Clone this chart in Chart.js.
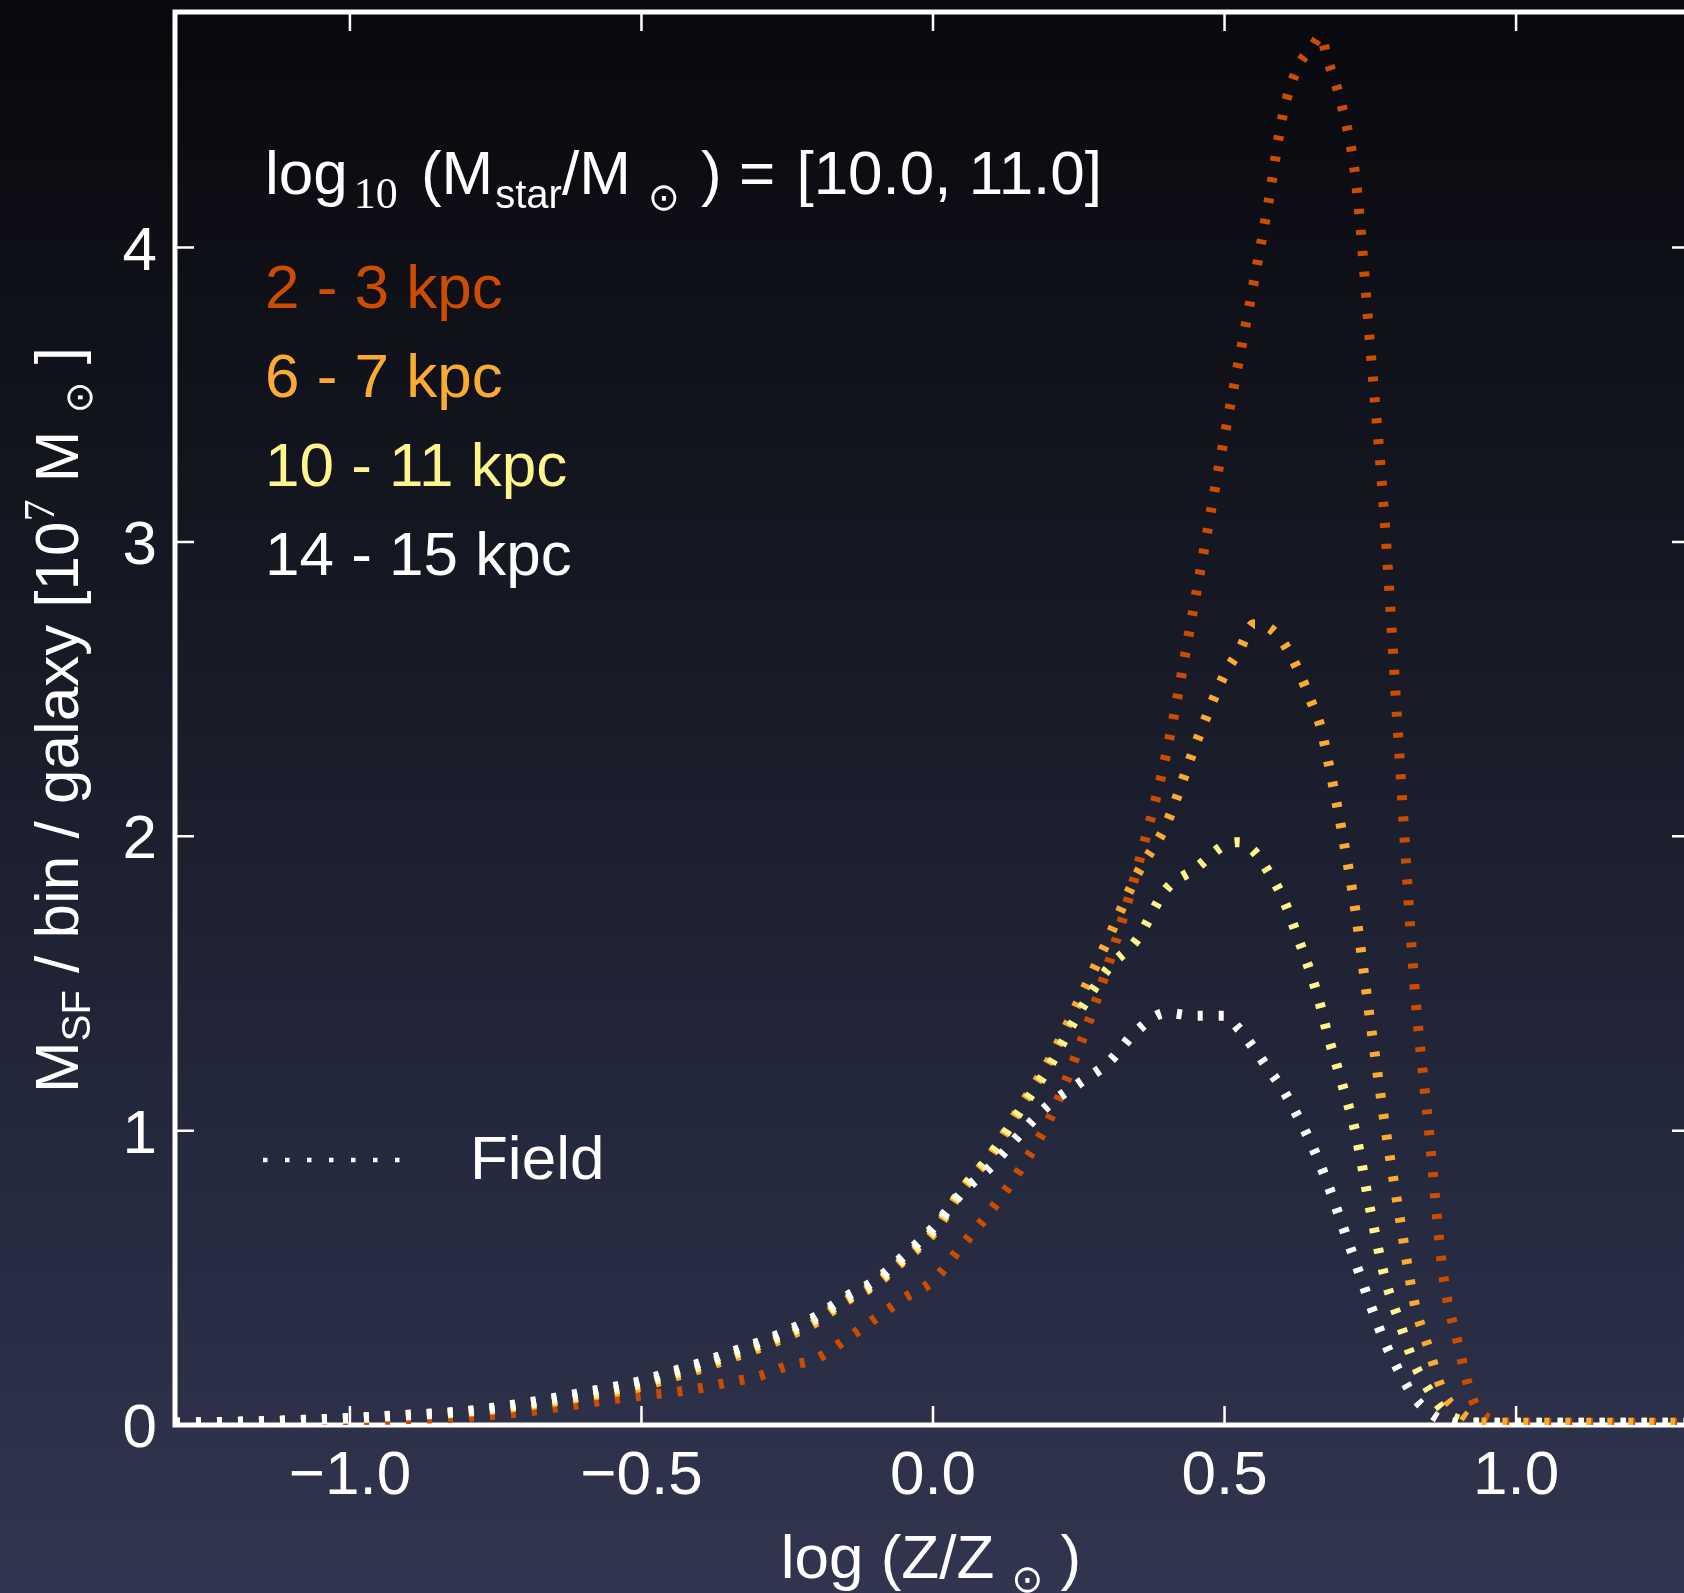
<!DOCTYPE html>
<html>
<head>
<meta charset="utf-8">
<title>SF gas metallicity by radius</title>
<script src="https://cdn.jsdelivr.net/npm/chart.js@4.4.1/dist/chart.umd.min.js"></script>
<style>
  html, body { margin: 0; padding: 0; width: 1684px; height: 1593px; overflow: hidden; }
  body { background: linear-gradient(to bottom, #08090d 0%, #171925 40%, #262a3f 75%, #31354f 100%); }
  #wrap { position: absolute; left: 0; top: 0; width: 1700px; height: 1593px; }
</style>
</head>
<body>
<div id="wrap"><canvas id="mzChart"></canvas></div>
<script>
// log(Z/Zsun) sample positions shared by all curves
const metallicity = [-1.30, -1.20, -1.10, -1.00, -0.90, -0.80, -0.70, -0.60, -0.50, -0.45,
    -0.40, -0.35, -0.30, -0.25, -0.20, -0.15, -0.10, -0.05, 0.00, 0.05,
    0.10, 0.15, 0.20, 0.25, 0.30, 0.35, 0.40, 0.45, 0.50, 0.525,
    0.55, 0.575, 0.60, 0.625, 0.65, 0.665, 0.675, 0.70, 0.725, 0.75,
    0.775, 0.80, 0.825, 0.85, 0.875, 0.90, 0.925, 0.95, 1.00, 1.10,
    1.20, 1.30];

// M_SF per bin per galaxy [1e7 Msun]
const ring2to3 = [0.005, 0.007, 0.010, 0.014, 0.020, 0.027, 0.045, 0.073, 0.100, 0.110,
    0.125, 0.145, 0.165, 0.200, 0.225, 0.290, 0.360, 0.430, 0.490, 0.610,
    0.730, 0.870, 1.040, 1.280, 1.560, 1.890, 2.280, 2.810, 3.360, 3.620,
    3.880, 4.150, 4.450, 4.610, 4.680, 4.720, 4.650, 4.490, 4.230, 3.660,
    3.060, 2.270, 1.510, 1.010, 0.510, 0.280, 0.090, 0.025, 0.008, 0.008,
    0.008, 0.008];
const ring6to7 = [0.007, 0.010, 0.015, 0.022, 0.032, 0.044, 0.065, 0.095, 0.130, 0.160,
    0.190, 0.225, 0.260, 0.300, 0.350, 0.420, 0.475, 0.560, 0.650, 0.800,
    0.920, 1.080, 1.240, 1.440, 1.650, 1.870, 2.040, 2.310, 2.550, 2.630,
    2.720, 2.710, 2.660, 2.570, 2.450, 2.370, 2.280, 2.030, 1.740, 1.370,
    1.020, 0.710, 0.420, 0.260, 0.110, 0.050, 0.015, 0.008, 0.008, 0.008,
    0.008, 0.008];
const ring10to11 = [0.008, 0.011, 0.016, 0.023, 0.034, 0.046, 0.070, 0.100, 0.140, 0.170,
    0.200, 0.235, 0.270, 0.310, 0.360, 0.425, 0.480, 0.565, 0.660, 0.800,
    0.920, 1.070, 1.220, 1.400, 1.550, 1.650, 1.820, 1.890, 1.970, 1.980,
    1.950, 1.880, 1.790, 1.660, 1.520, 1.420, 1.340, 1.170, 0.990, 0.730,
    0.500, 0.350, 0.210, 0.120, 0.050, 0.020, 0.010, 0.008, 0.008, 0.008,
    0.008, 0.008];
const ring14to15 = [0.008, 0.011, 0.016, 0.024, 0.035, 0.048, 0.075, 0.110, 0.150, 0.180,
    0.210, 0.245, 0.280, 0.320, 0.370, 0.435, 0.490, 0.575, 0.670, 0.790,
    0.880, 0.990, 1.090, 1.160, 1.230, 1.340, 1.400, 1.390, 1.390, 1.345,
    1.280, 1.210, 1.140, 1.050, 0.950, 0.880, 0.830, 0.690, 0.550, 0.410,
    0.280, 0.180, 0.095, 0.045, 0.015, 0.008, 0.008, 0.008, 0.008, 0.008,
    0.008, 0.008];

const seriesLabels = ['2 - 3 kpc', '6 - 7 kpc', '10 - 11 kpc', '14 - 15 kpc'];
const xTicks = [-1.0, -0.5, 0.0, 0.5, 1.0];
const yTicks = [0, 1, 2, 3, 4];

const colors = ['#cc4c02', '#fbab31', '#fef58c', '#ffffff'];
const SANS = '"Liberation Sans", Arial, sans-serif';
const BIG = '62px ' + SANS;
const SMALL = '40px ' + SANS;
const SERIF_SMALL = '44px "Liberation Serif", serif';
const SYM = '38px "DejaVu Sans", sans-serif';

// draw a line of text made of runs with different fonts / baseline shifts
function drawRuns(ctx, runs, x, y, align) {
    let total = 0;
    runs.forEach(r => {
        ctx.font = r.f;
        r.w = ctx.measureText(r.t).width + (r.gap || 0);
        total += r.w;
    });
    let cx = align === 'center' ? x - total / 2 : x;
    runs.forEach(r => {
        ctx.font = r.f;
        ctx.fillText(r.t, cx, y + (r.dy || 0));
        cx += r.w;
    });
}

const framePlugin = {
    id: 'frame',
    beforeDatasetsDraw(chart) {
        const { ctx, chartArea: a, scales: { x, y } } = chart;
        ctx.save();
        ctx.strokeStyle = '#ffffff';
        ctx.lineWidth = 2.5;
        ctx.beginPath();
        xTicks.forEach(v => {
            const px = x.getPixelForValue(v);
            ctx.moveTo(px, a.bottom); ctx.lineTo(px, a.bottom - 19);
            ctx.moveTo(px, a.top); ctx.lineTo(px, a.top + 19);
        });
        yTicks.forEach(v => {
            const py = y.getPixelForValue(v);
            ctx.moveTo(a.left, py); ctx.lineTo(a.left + 19, py);
            ctx.moveTo(a.right, py); ctx.lineTo(a.right - 19, py);
        });
        ctx.stroke();
        ctx.lineWidth = 5;
        ctx.strokeRect(a.left, a.top, a.right - a.left, a.bottom - a.top);
        ctx.restore();
    },
    afterDraw(chart) {
        const { ctx, chartArea: a, scales: { x, y } } = chart;
        ctx.save();
        ctx.fillStyle = '#ffffff';
        ctx.textBaseline = 'alphabetic';

        // tick labels
        ctx.font = BIG;
        ctx.textAlign = 'center';
        xTicks.forEach(v => {
            const txt = (v < 0 ? '\u2212' : '') + Math.abs(v).toFixed(1);
            ctx.fillText(txt, x.getPixelForValue(v), a.bottom + 69);
        });
        ctx.textAlign = 'right';
        yTicks.forEach(v => ctx.fillText(String(v), 157, y.getPixelForValue(v) + 22));

        ctx.textAlign = 'left';
        // x axis title
        drawRuns(ctx, [
            { t: 'log (Z/Z ', f: BIG },
            { t: '\u2299', f: SYM, dy: 14 },
            { t: ' )', f: BIG }
        ], 931, 1578, 'center');

        // y axis title
        ctx.save();
        ctx.translate(78, 720);
        ctx.rotate(-Math.PI / 2);
        drawRuns(ctx, [
            { t: 'M', f: BIG },
            { t: 'SF', f: SMALL, dy: 12 },
            { t: ' / bin / galaxy [10', f: BIG },
            { t: '7', f: SERIF_SMALL, dy: -24 },
            { t: ' M ', f: BIG },
            { t: '\u2299', f: SYM, dy: 14 },
            { t: ' ]', f: BIG }
        ], 0, 0, 'center');
        ctx.restore();

        // header
        drawRuns(ctx, [
            { t: 'log', f: BIG, gap: 6 },
            { t: '10', f: SERIF_SMALL, dy: 14, gap: 6 },
            { t: ' (M', f: BIG, gap: 2 },
            { t: 'star', f: SMALL, dy: 14 },
            { t: '/M ', f: BIG },
            { t: '\u2299', f: SYM, dy: 16, gap: 4 },
            { t: ' ) = ', f: BIG, gap: 4 },
            { t: '[10.0, 11.0]', f: BIG }
        ], 265, 194, 'left');

        // legend: radial bins
        ctx.font = BIG;
        seriesLabels.forEach((lab, i) => {
            ctx.fillStyle = colors[i];
            ctx.fillText(lab, 265, 308 + i * 89);
        });

        // legend: line style
        ctx.strokeStyle = '#ffffff';
        ctx.lineWidth = 4.5;
        ctx.setLineDash([4.5, 17.5]);
        ctx.beginPath();
        ctx.moveTo(263, 1160);
        ctx.lineTo(402, 1160);
        ctx.stroke();
        ctx.setLineDash([]);
        ctx.fillStyle = '#ffffff';
        ctx.fillText('Field', 470, 1179);
        ctx.restore();
    }
};

const series = [ring2to3, ring6to7, ring10to11, ring14to15];

new Chart(document.getElementById('mzChart'), {
    type: 'line',
    data: {
        datasets: series.map((vals, i) => ({
            label: seriesLabels[i],
            data: metallicity.map((z, k) => ({ x: z, y: vals[k] })),
            borderColor: colors[i],
            borderWidth: 10,
            borderDash: [5, 16],
            borderCapStyle: 'butt',
            cubicInterpolationMode: 'monotone',
            pointRadius: 0,
            fill: false,
            order: series.length - i
        }))
    },
    options: {
        responsive: true,
        maintainAspectRatio: false,
        animation: false,
        layout: { padding: { left: 0, right: 9, top: 12, bottom: 0 } },
        plugins: {
            legend: { display: false },
            tooltip: { enabled: false }
        },
        scales: {
            x: {
                type: 'linear',
                min: -1.3,
                max: 1.3,
                grid: { display: false },
                border: { display: false },
                ticks: { display: false },
                afterFit(scale) { scale.height = 168; }
            },
            y: {
                min: 0,
                max: 4.8,
                grid: { display: false },
                border: { display: false },
                ticks: { display: false },
                afterFit(scale) { scale.width = 175; }
            }
        }
    },
    plugins: [framePlugin]
});
</script>
</body>
</html>
